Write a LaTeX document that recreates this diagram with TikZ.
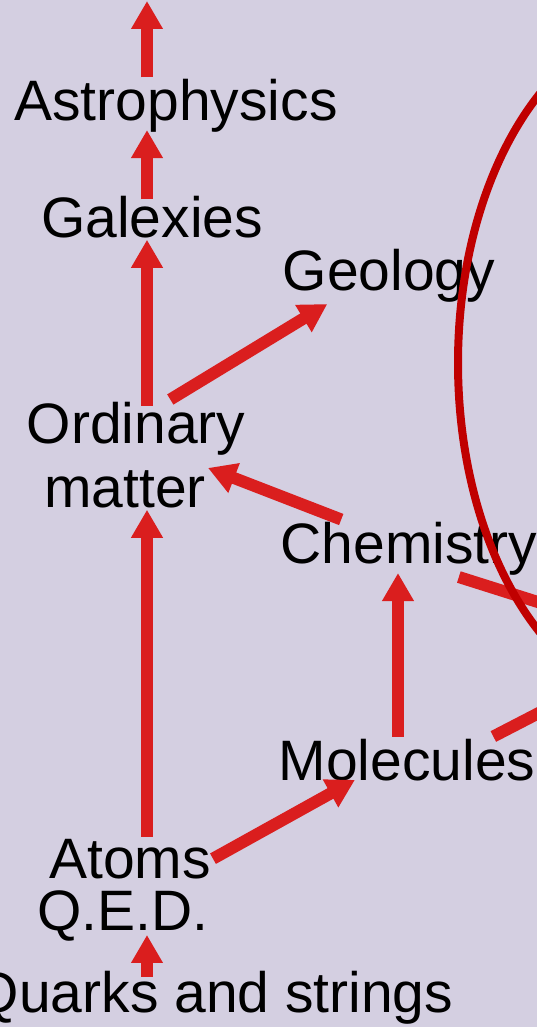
\documentclass[tikz,border=0pt]{standalone}
\usepackage{fontspec}
\setmainfont{Liberation Sans}
\usepackage{tikz}
\usetikzlibrary{arrows.meta, calc}
\definecolor{slidebg}{RGB}{212,207,225}
\definecolor{arrowred}{RGB}{218,30,30}
\definecolor{ringred}{RGB}{192,0,0}
\tikzset{
  topic/.style={anchor=base, inner sep=2pt, text=black, font=\fontsize{57}{64}\selectfont},
  arrow/.style={draw=arrowred, line width=12pt, -{Triangle[length=28pt,width=30pt]}},
  link/.style={draw=arrowred, line width=12pt},
  ring/.style={draw=ringred, line width=8pt}
}

\begin{document}
\begin{tikzpicture}[x=1pt, y=-1pt]

    % 1. Fondo de la diapositiva
    \useasboundingbox (0,0) rectangle (537,1027);
    \fill[slidebg] (0,0) rectangle (537,1027);
    \clip (0,0) rectangle (537,1027);

    % columnas de las flechas verticales
    \coordinate (col) at (147,0);
    \coordinate (colchem) at (398,0);

    % 2. Temas
    \node[topic] (astro)  at (176,121)  {Astrophysics};
    \node[topic] (gal)    at (152,237)  {Galexies};
    \node[topic] (geo)    at (389,290)  {Geology};
    \node[topic] (ord)    at (136,443)  {Ordinary};
    \node[topic] (mat)    at (125,507)  {matter};
    \node[topic] (chem)   at (409,563)  {Chemistry};
    \node[topic] (mol)    at (407,780)  {Molecules};
    \node[topic] (atoms)  at (130,878)  {Atoms};
    \node[topic] (qed)    at (123,930)  {Q.E.D.};
    \node[topic] (quarks) at (214,1012) {Quarks and strings};

    % extremos fuera del cuadro
    \coordinate (offtop)  at (147,1);
    \coordinate (offchem) at (620,628);
    \coordinate (offmol)  at (620,671);

    % -------------------------------------------------------------
    % FLECHAS
    % -------------------------------------------------------------
    \draw[arrow] (col |- astro.north) -- (offtop);
    \draw[arrow, shorten <=-6pt, shorten >=-5pt] (col |- gal.north) -- (col |- astro.south);
    \draw[arrow, shorten <=-6pt] (col |- ord.north) -- (col |- gal.south);
    \draw[arrow] (ord.40) -- (geo.205);
    \draw[arrow] (chem.157) -- (mat.north east);
    \draw[arrow] (col |- atoms.north) -- (col |- mat.south);
    \draw[arrow, shorten >=-4pt] (colchem |- mol.north) -- (colchem |- chem.south);
    \draw[arrow, shorten >=-6pt] (atoms.east) -- (mol.202);
    \draw[arrow, shorten <=-8pt, shorten >=-8pt] (col |- quarks.north) -- (col |- qed.south);

    % salidas hacia la derecha
    \draw[link] (chem.330) -- (offchem);
    \draw[link] (mol.15) -- (offmol);

    % 3. Elipse
    \draw[ring] (668,363) ellipse [x radius=210, y radius=340];

\end{tikzpicture}
\end{document}
